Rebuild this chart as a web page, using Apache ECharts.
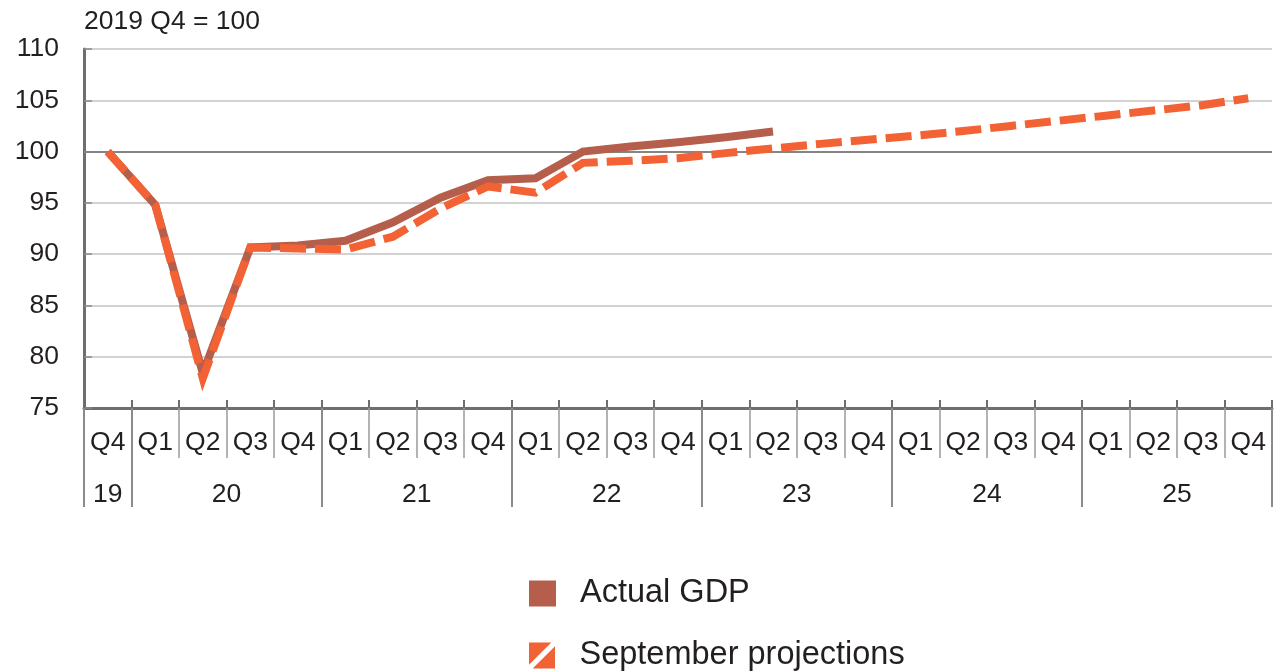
<!DOCTYPE html>
<html>
<head>
<meta charset="utf-8">
<style>
  html, body { margin: 0; padding: 0; background: #ffffff; }
  #chart { width: 1281px; height: 671px; }
</style>
<script src="https://cdn.jsdelivr.net/npm/echarts@6/dist/echarts.min.js"></script>
</head>
<body>
<div id="chart"></div>
<script>
// ---- data ----
var quarters = ['Q4','Q1','Q2','Q3','Q4','Q1','Q2','Q3','Q4','Q1','Q2','Q3','Q4','Q1','Q2','Q3','Q4','Q1','Q2','Q3','Q4','Q1','Q2','Q3','Q4'];
var yearLabels = ['19','20','21','22','23','24','25'];
var yearSpans = [1, 4, 4, 4, 4, 4, 4]; // quarters per year shown
var actualGDP = [100, 94.8, 78.4, 90.65, 90.85, 91.3, 93.1, 95.5, 97.2, 97.4, 100.0, 100.5, 100.9, 101.4, 101.95];
var septemberProjections = [100, 94.8, 77.9, 90.65, 90.55, 90.45, 91.7, 94.45, 96.6, 96.0, 98.9, 99.1, 99.35, 99.85, 100.3, 100.75, 101.15, 101.55, 102.0, 102.5, 103.0, 103.5, 104.0, 104.5, 105.2];
var yTicks = { min: 75, max: 110, step: 5 };
var yAxisName = '2019 Q4 = 100';
var seriesNames = ['Actual GDP', 'September projections'];

// ---- derived helpers ----
var yearStarts = [];   // index of first quarter of each year
var yearCenters = {};  // center position (in quarter units) -> label
(function () {
  var s = 0;
  for (var i = 0; i < yearSpans.length; i++) {
    yearStarts.push(s);
    yearCenters[(s + yearSpans[i] / 2).toFixed(1)] = yearLabels[i];
    s += yearSpans[i];
  }
})();

var FONT = 'Liberation Sans, Arial, Helvetica, sans-serif';
var TXT = '#231f20';
var BROWN = '#b55e4b';
var ORANGE = '#f26234';
var FS = 26.5;

var chart = echarts.init(document.getElementById('chart'), null, { renderer: 'canvas' });

function legendBlock(idx, top, icon) {
  return {
    orient: 'vertical',
    left: 529,
    top: top,
    padding: 0,
    itemWidth: 27,
    itemHeight: 26,
    selectedMode: false,
    itemStyle: { borderWidth: 0 },
    textStyle: { fontSize: 32.5, color: TXT, fontFamily: FONT, padding: [0, 0, 0, 19] },
    data: [{ name: seriesNames[idx], icon: icon }]
  };
}

var option = {
  animation: false,
  backgroundColor: '#ffffff',
  grid: { left: 84, right: 9, top: 49, bottom: 263, containLabel: false },
  legend: [
    legendBlock(0, 577, 'rect'),
    legendBlock(1, 639, 'path://M0,0L8.6,0L0,8.6Z M10,1.4L10,10L1.4,10Z')
  ],
  xAxis: [
    {
      type: 'category',
      data: quarters,
      boundaryGap: true,
      position: 'bottom',
      axisLine: { show: true, lineStyle: { color: '#6e6e6e', width: 3 } },
      axisTick: { show: true, inside: true, length: 8, interval: 0, lineStyle: { color: '#6e6e6e', width: 2 } },
      axisLabel: { show: true, interval: 0, margin: 21, fontSize: FS, color: TXT, fontFamily: FONT },
      splitLine: { show: false }
    },
    {
      type: 'category',
      data: quarters,
      boundaryGap: true,
      position: 'bottom',
      axisLine: { show: false },
      axisTick: { show: true, inside: false, length: 50, interval: 0, lineStyle: { color: '#9a9a9a', width: 1.5 } },
      axisLabel: { show: false },
      splitLine: { show: false }
    },
    {
      type: 'category',
      data: quarters,
      boundaryGap: true,
      position: 'bottom',
      axisLine: { show: false },
      axisTick: {
        show: true, inside: false, length: 99,
        interval: function (idx) { return yearStarts.indexOf(idx) >= 0; },
        lineStyle: { color: '#8a8a8a', width: 2 }
      },
      axisLabel: { show: false },
      splitLine: { show: false }
    },
    {
      type: 'value',
      min: 0,
      max: quarters.length,
      interval: 0.5,
      position: 'bottom',
      axisLine: { show: false },
      axisTick: { show: false },
      splitLine: { show: false },
      axisLabel: {
        show: true, margin: 73, fontSize: FS, color: TXT, fontFamily: FONT,
        formatter: function (v) { var k = Number(v).toFixed(1); return yearCenters[k] || ''; }
      }
    }
  ],
  yAxis: {
    type: 'value',
    min: yTicks.min,
    max: yTicks.max,
    interval: yTicks.step,
    name: yAxisName,
    nameLocation: 'end',
    nameGap: 14,
    nameTextStyle: { align: 'left', fontSize: FS, color: TXT, fontFamily: FONT },
    axisLine: { show: true, lineStyle: { color: '#6e6e6e', width: 3 } },
    axisTick: { show: true, inside: true, length: 8, lineStyle: { color: '#8a8a8a', width: 1.5 } },
    axisLabel: { margin: 25, fontSize: FS, color: TXT, fontFamily: FONT },
    splitLine: { show: true, lineStyle: { color: '#c3c3c3', width: 1.5 } }
  },
  series: [
    {
      name: seriesNames[0],
      type: 'line',
      xAxisIndex: 0,
      data: actualGDP,
      showSymbol: false,
      symbol: 'none',
      color: BROWN,
      lineStyle: { color: BROWN, width: 8, cap: 'butt', join: 'miter' },
      z: 3,
      markLine: {
        silent: true,
        symbol: 'none',
        label: { show: false },
        lineStyle: { color: '#858585', width: 2, type: 'solid' },
        data: [{ yAxis: 100 }],
        z: 1
      }
    },
    {
      name: seriesNames[1],
      type: 'line',
      xAxisIndex: 0,
      data: septemberProjections,
      showSymbol: false,
      symbol: 'none',
      color: ORANGE,
      lineStyle: { color: ORANGE, width: 8, type: [26, 9], cap: 'butt', join: 'miter' },
      z: 4
    }
  ]
};

chart.setOption(option);
</script>
</body>
</html>
